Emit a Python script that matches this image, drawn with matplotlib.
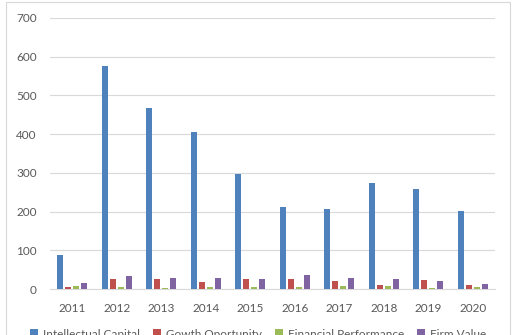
import matplotlib
matplotlib.use("Agg")
import matplotlib.pyplot as plt
import numpy as np
from matplotlib.patches import Rectangle

years = ["2011", "2012", "2013", "2014", "2015", "2016", "2017", "2018", "2019", "2020"]
intellectual_capital = [88, 576, 468, 406, 297, 212, 207, 274, 258, 202]
growth_opportunity = [4, 25, 26, 19, 27, 26, 21, 10, 23, 11]
financial_performance = [7, 5, 3, 5, 6, 5, 7, 8, 2, 4]
firm_value = [15, 34, 28, 28, 25, 37, 28, 25, 21, 13]
series_names = ["Intellectual Capital", "Gowth Oportunity", "Financial Performance", "Firm Value"]
colors = ["#4F81BD", "#C0504D", "#9BBB59", "#8064A2"]

plt.rcParams['font.family'] = ['Lato', 'DejaVu Sans']

fig = plt.figure(figsize=(5.22, 3.35), dpi=100)
fig.patches.append(Rectangle((6/522, -0.1), 504/522, 1.1 - 2/335, transform=fig.transFigure,
                             fill=False, edgecolor="#D9D9D9", linewidth=0.8))
ax = fig.add_axes([50/522, (335-289)/335, 445/522, 271/335])

x = np.arange(len(years))
width = 0.145
step = 0.18
all_series = [intellectual_capital, growth_opportunity, financial_performance, firm_value]
handles = []
for i, (vals, name, c) in enumerate(zip(all_series, series_names, colors)):
    b = ax.bar(x + (i - 1.5) * step, vals, width, color=c, label=name, zorder=3)
    handles.append(b)

ax.set_xlim(-0.5, len(years) - 0.5)
ax.set_ylim(0, 700)
ax.set_yticks(range(0, 701, 100))
ax.set_xticks(x)
ax.set_xticklabels(years)
ax.grid(axis='y', color="#D9D9D9", linewidth=0.8, zorder=0)
for s in ["top", "right", "left"]:
    ax.spines[s].set_visible(False)
ax.spines["bottom"].set_color("#D9D9D9")
ax.tick_params(axis='both', length=0, colors="#595959", labelsize=8.5)
ax.tick_params(axis='y', pad=9.5)
ax.tick_params(axis='x', pad=10)

fig.legend(handles=handles, labels=series_names, loc='center', bbox_to_anchor=(258/522, 1/335),
           ncol=4, frameon=False, fontsize=8.5, handlelength=0.7, handleheight=0.7,
           handletextpad=0.4, columnspacing=1.1, labelcolor="#595959")

fig.savefig("out.png", dpi=100)
